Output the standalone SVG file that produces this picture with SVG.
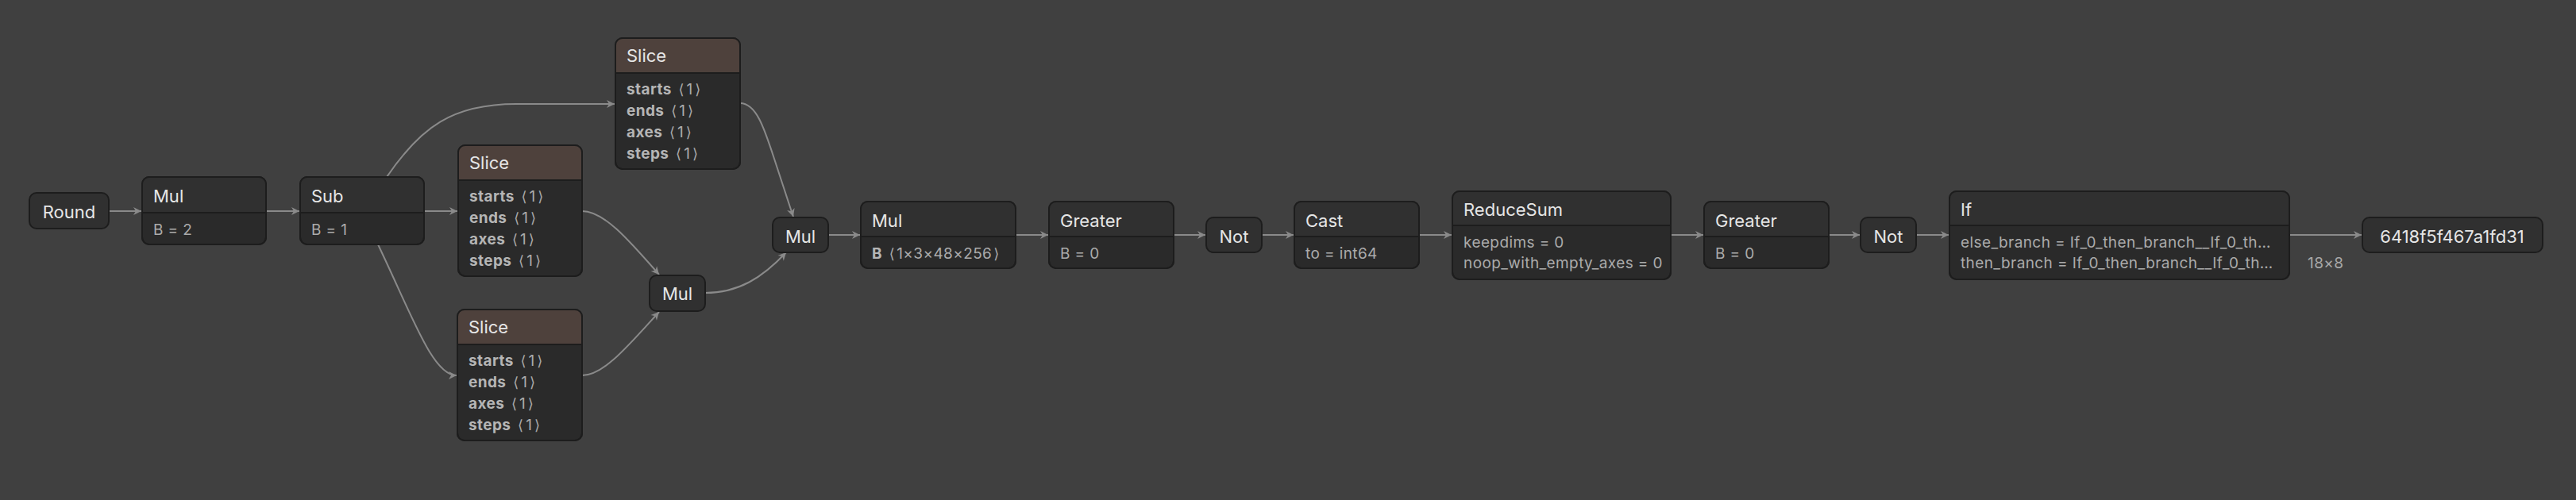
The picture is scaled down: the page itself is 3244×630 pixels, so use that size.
<svg xmlns="http://www.w3.org/2000/svg" width="3244" height="630" viewBox="0 0 3244 630">
<defs>
<marker id="arr" markerUnits="userSpaceOnUse" markerWidth="12" markerHeight="12" viewBox="0 0 12 12" refX="11" refY="6" orient="auto">
<path d="M1,1 L11,6 L1,11 L4,6 Z" fill="#8a8a8a"/>
</marker>
<style>
.bg{fill:#404040}
.e{fill:none;stroke:#8a8a8a;stroke-width:2;marker-end:url(#arr)}
.box{fill:#2a2a2a;stroke:#1d1d1d;stroke-width:2}
.single{fill:#303030;stroke:#1d1d1d;stroke-width:2}
.hd{fill:#303030}
.hs{fill:#4e413c}
.div{stroke:#1d1d1d;stroke-width:2}
.out{fill:none;stroke:#1d1d1d;stroke-width:2}
text{font-family:Inter,"Noto Sans","DejaVu Sans",sans-serif}
.t{font-size:22px;fill:#e6e6e6}
.c{text-anchor:middle}
.a{font-size:19px;fill:#ababab;letter-spacing:0.4px}
.b{font-weight:bold;fill:#b5b5b5}
.k{font-family:"DejaVu Sans",sans-serif;font-size:18px}
.v{letter-spacing:3px}
.lbl{font-size:19px;fill:#a8a8a8;letter-spacing:0.4px}
</style>
</defs>
<rect class="bg" x="0" y="0" width="3244" height="630"/>

<g id="connectors">
<path class="e" d="M137,266 L178,266"/>
<path class="e" d="M335,266 L377,266"/>
<path class="e" d="M534,266 L576,266"/>
<path class="e" d="M487,223 C530,160 570,131 650,131 L774,131"/>
<path class="e" d="M476,308 C520,400 545,473 575,473"/>
<path class="e" d="M733,266 C760,266 790,300 830,346"/>
<path class="e" d="M733,473 C760,473 790,437 830,393"/>
<path class="e" d="M932,130 C952,130 962,160 975,200 S992,252 999,273"/>
<path class="e" d="M888,369 C930,369 960,350 990,318"/>
<path class="e" d="M1043,296 L1083,296"/>
<path class="e" d="M1279,296 L1320,296"/>
<path class="e" d="M1478,296 L1518,296"/>
<path class="e" d="M1589,296 L1629,296"/>
<path class="e" d="M1787,296 L1828,296"/>
<path class="e" d="M2104,296 L2145,296"/>
<path class="e" d="M2303,296 L2342,296"/>
<path class="e" d="M2413,296 L2454,296"/>
<path class="e" d="M2883,296 L2974,296"/>
<text class="lbl" x="2906" y="338">18×8</text>
</g>

<g id="round">
<rect class="single" x="37" y="243" width="100" height="45" rx="9"/>
<text class="t c" x="87" y="275">Round</text>
</g>

<g id="mul1">
<rect class="box" x="179" y="223" width="156" height="85" rx="9"/>
<path class="hd" d="M179,268 V232 Q179,223 188,223 H326 Q335,223 335,232 V268 Z"/>
<line class="div" x1="179" y1="268" x2="335" y2="268"/>
<rect class="out" x="179" y="223" width="156" height="85" rx="9"/>
<text class="t" x="193" y="255">Mul</text>
<text class="a" x="193" y="296">B = 2</text>
</g>

<g id="sub">
<rect class="box" x="378" y="223" width="156" height="85" rx="9"/>
<path class="hd" d="M378,268 V232 Q378,223 387,223 H525 Q534,223 534,232 V268 Z"/>
<line class="div" x1="378" y1="268" x2="534" y2="268"/>
<rect class="out" x="378" y="223" width="156" height="85" rx="9"/>
<text class="t" x="392" y="255">Sub</text>
<text class="a" x="392" y="296">B = 1</text>
</g>

<g id="slice_top">
<rect class="box" x="775" y="48" width="157" height="165" rx="9"/>
<path class="hs" d="M775,92 V57 Q775,48 784,48 H923 Q932,48 932,57 V92 Z"/>
<line class="div" x1="775" y1="92" x2="932" y2="92"/>
<rect class="out" x="775" y="48" width="157" height="165" rx="9"/>
<text class="t" x="789" y="78">Slice</text>
<text class="a" x="789" y="119"><tspan class="b">starts</tspan> <tspan class="v" dx="3"><tspan class="k">⟨</tspan>1<tspan class="k">⟩</tspan></tspan></text>
<text class="a" x="789" y="146"><tspan class="b">ends</tspan> <tspan class="v" dx="3"><tspan class="k">⟨</tspan>1<tspan class="k">⟩</tspan></tspan></text>
<text class="a" x="789" y="173"><tspan class="b">axes</tspan> <tspan class="v" dx="3"><tspan class="k">⟨</tspan>1<tspan class="k">⟩</tspan></tspan></text>
<text class="a" x="789" y="200"><tspan class="b">steps</tspan> <tspan class="v" dx="3"><tspan class="k">⟨</tspan>1<tspan class="k">⟩</tspan></tspan></text>
</g>

<g id="slice_mid">
<rect class="box" x="577" y="183" width="156" height="165" rx="9"/>
<path class="hs" d="M577,227 V192 Q577,183 586,183 H724 Q733,183 733,192 V227 Z"/>
<line class="div" x1="577" y1="227" x2="733" y2="227"/>
<rect class="out" x="577" y="183" width="156" height="165" rx="9"/>
<text class="t" x="591" y="213">Slice</text>
<text class="a" x="591" y="254"><tspan class="b">starts</tspan> <tspan class="v" dx="3"><tspan class="k">⟨</tspan>1<tspan class="k">⟩</tspan></tspan></text>
<text class="a" x="591" y="281"><tspan class="b">ends</tspan> <tspan class="v" dx="3"><tspan class="k">⟨</tspan>1<tspan class="k">⟩</tspan></tspan></text>
<text class="a" x="591" y="308"><tspan class="b">axes</tspan> <tspan class="v" dx="3"><tspan class="k">⟨</tspan>1<tspan class="k">⟩</tspan></tspan></text>
<text class="a" x="591" y="335"><tspan class="b">steps</tspan> <tspan class="v" dx="3"><tspan class="k">⟨</tspan>1<tspan class="k">⟩</tspan></tspan></text>
</g>

<g id="slice_bot">
<rect class="box" x="576" y="390" width="157" height="165" rx="9"/>
<path class="hs" d="M576,434 V399 Q576,390 585,390 H724 Q733,390 733,399 V434 Z"/>
<line class="div" x1="576" y1="434" x2="733" y2="434"/>
<rect class="out" x="576" y="390" width="157" height="165" rx="9"/>
<text class="t" x="590" y="420">Slice</text>
<text class="a" x="590" y="461"><tspan class="b">starts</tspan> <tspan class="v" dx="3"><tspan class="k">⟨</tspan>1<tspan class="k">⟩</tspan></tspan></text>
<text class="a" x="590" y="488"><tspan class="b">ends</tspan> <tspan class="v" dx="3"><tspan class="k">⟨</tspan>1<tspan class="k">⟩</tspan></tspan></text>
<text class="a" x="590" y="515"><tspan class="b">axes</tspan> <tspan class="v" dx="3"><tspan class="k">⟨</tspan>1<tspan class="k">⟩</tspan></tspan></text>
<text class="a" x="590" y="542"><tspan class="b">steps</tspan> <tspan class="v" dx="3"><tspan class="k">⟨</tspan>1<tspan class="k">⟩</tspan></tspan></text>
</g>

<g id="mul2">
<rect class="single" x="818" y="347" width="70" height="45" rx="9"/>
<text class="t c" x="853" y="378">Mul</text>
</g>

<g id="mul3">
<rect class="single" x="973" y="274" width="70" height="44" rx="9"/>
<text class="t c" x="1008" y="306">Mul</text>
</g>

<g id="mul4">
<rect class="box" x="1084" y="254" width="195" height="84" rx="9"/>
<path class="hd" d="M1084,298 V263 Q1084,254 1093,254 H1270 Q1279,254 1279,263 V298 Z"/>
<line class="div" x1="1084" y1="298" x2="1279" y2="298"/>
<rect class="out" x="1084" y="254" width="195" height="84" rx="9"/>
<text class="t" x="1098" y="286">Mul</text>
<text class="a" x="1098" y="326"><tspan class="b">B</tspan> <tspan dx="3"><tspan class="k">⟨</tspan><tspan dx="2">1×3×48×256</tspan><tspan class="k" dx="2">⟩</tspan></tspan></text>
</g>

<g id="greater1">
<rect class="box" x="1321" y="254" width="157" height="84" rx="9"/>
<path class="hd" d="M1321,298 V263 Q1321,254 1330,254 H1469 Q1478,254 1478,263 V298 Z"/>
<line class="div" x1="1321" y1="298" x2="1478" y2="298"/>
<rect class="out" x="1321" y="254" width="157" height="84" rx="9"/>
<text class="t" x="1335" y="286">Greater</text>
<text class="a" x="1335" y="326">B = 0</text>
</g>

<g id="not1">
<rect class="single" x="1519" y="274" width="70" height="44" rx="9"/>
<text class="t c" x="1554" y="306">Not</text>
</g>

<g id="cast">
<rect class="box" x="1630" y="254" width="157" height="84" rx="9"/>
<path class="hd" d="M1630,298 V263 Q1630,254 1639,254 H1778 Q1787,254 1787,263 V298 Z"/>
<line class="div" x1="1630" y1="298" x2="1787" y2="298"/>
<rect class="out" x="1630" y="254" width="157" height="84" rx="9"/>
<text class="t" x="1644" y="286">Cast</text>
<text class="a" x="1644" y="326">to = int64</text>
</g>

<g id="reducesum">
<rect class="box" x="1829" y="241" width="275" height="111" rx="9"/>
<path class="hd" d="M1829,284 V250 Q1829,241 1838,241 H2095 Q2104,241 2104,250 V284 Z"/>
<line class="div" x1="1829" y1="284" x2="2104" y2="284"/>
<rect class="out" x="1829" y="241" width="275" height="111" rx="9"/>
<text class="t" x="1843" y="272">ReduceSum</text>
<text class="a" x="1843" y="312">keepdims = 0</text>
<text class="a" x="1843" y="338">noop_with_empty_axes = 0</text>
</g>

<g id="greater2">
<rect class="box" x="2146" y="254" width="157" height="84" rx="9"/>
<path class="hd" d="M2146,298 V263 Q2146,254 2155,254 H2294 Q2303,254 2303,263 V298 Z"/>
<line class="div" x1="2146" y1="298" x2="2303" y2="298"/>
<rect class="out" x="2146" y="254" width="157" height="84" rx="9"/>
<text class="t" x="2160" y="286">Greater</text>
<text class="a" x="2160" y="326">B = 0</text>
</g>

<g id="not2">
<rect class="single" x="2343" y="274" width="70" height="44" rx="9"/>
<text class="t c" x="2378" y="306">Not</text>
</g>

<g id="if">
<rect class="box" x="2455" y="241" width="428" height="111" rx="9"/>
<path class="hd" d="M2455,284 V250 Q2455,241 2464,241 H2874 Q2883,241 2883,250 V284 Z"/>
<line class="div" x1="2455" y1="284" x2="2883" y2="284"/>
<rect class="out" x="2455" y="241" width="428" height="111" rx="9"/>
<text class="t" x="2469" y="272">If</text>
<text class="a" x="2469" y="312">else_branch = If_0_then_branch__If_0_th…</text>
<text class="a" x="2469" y="338">then_branch = If_0_then_branch__If_0_th…</text>
</g>

<g id="output">
<rect class="single" x="2975" y="274" width="227" height="44" rx="9"/>
<text class="t c" x="3088" y="306">6418f5f467a1fd31</text>
</g>
</svg>
